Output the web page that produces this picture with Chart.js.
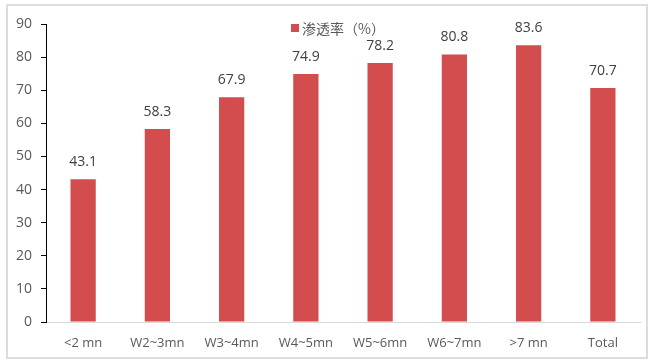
<!DOCTYPE html>
<html>
<head>
<meta charset="utf-8">
<script src="https://cdn.jsdelivr.net/npm/chart.js@4"></script>
<style>
  html, body { margin: 0; padding: 0; background: #fff; }
  .frame { position: absolute; left: 6px; top: 4px; width: 638px; height: 351px; border: 2px solid #dcdcdc; }
  canvas { position: absolute; left: 0; top: 0; }
</style>
</head>
<body>
<div class="frame"></div>
<canvas id="myBarChart" width="652" height="361"></canvas>
<script>
const categories = ['<2 mn', 'W2~3mn', 'W3~4mn', 'W4~5mn', 'W5~6mn', 'W6~7mn', '>7 mn', 'Total'];
const penetration = [43.1, 58.3, 67.9, 74.9, 78.2, 80.8, 83.6, 70.7];
const seriesName = '渗透率（%）';
const barColor = '#d34c4e';

// value labels above each bar
const valueLabels = {
    id: 'valueLabels',
    afterDatasetsDraw(chart) {
        const ctx = chart.ctx;
        const meta = chart.getDatasetMeta(0);
        ctx.save();
        ctx.font = '14px "Open Sans", sans-serif';
        ctx.fillStyle = '#404040';
        ctx.textAlign = 'center';
        ctx.textBaseline = 'bottom';
        meta.data.forEach((bar, i) => {
            ctx.fillText(chart.data.datasets[0].data[i].toFixed(1), bar.x, bar.y - 10);
        });
        ctx.restore();
    }
};

// small legend sitting inside the plot
const innerLegend = {
    id: 'innerLegend',
    afterDraw(chart) {
        const ctx = chart.ctx;
        ctx.save();
        ctx.fillStyle = barColor;
        ctx.fillRect(291, 24, 8, 8);
        ctx.font = '14px "Noto Sans CJK SC", sans-serif';
        ctx.fillStyle = '#595959';
        ctx.textBaseline = 'middle';
        ctx.fillText(chart.data.datasets[0].label, 302, 29);
        ctx.restore();
    }
};

document.addEventListener('DOMContentLoaded', () => {
    const ctx = document.getElementById('myBarChart').getContext('2d');
    new Chart(ctx, {
        type: 'bar',
        data: {
            labels: categories,
            datasets: [{
                label: seriesName,
                data: penetration,
                backgroundColor: barColor,
                categoryPercentage: 1,
                barPercentage: 0.34
            }]
        },
        options: {
            responsive: false,
            animation: false,
            layout: { padding: { top: 24, right: 12, left: 0, bottom: 0 } },
            plugins: {
                legend: { display: false },
                tooltip: { enabled: false }
            },
            scales: {
                x: {
                    grid: { display: false },
                    border: { display: true, color: '#d9d9d9', width: 1 },
                    ticks: {
                        color: '#595959',
                        font: { family: '"Open Sans", sans-serif', size: 13 },
                        padding: 5,
                        maxRotation: 0
                    },
                    afterFit: (scale) => { scale.height = 39; }
                },
                y: {
                    min: 0,
                    max: 90,
                    ticks: {
                        stepSize: 10,
                        color: '#595959',
                        font: { family: '"Open Sans", sans-serif', size: 14 },
                        padding: 9
                    },
                    grid: {
                        drawOnChartArea: false,
                        color: '#000',
                        tickLength: 5
                    },
                    border: { display: true, color: '#000', width: 1 },
                    afterFit: (scale) => { scale.width = 46; }
                }
            }
        },
        plugins: [valueLabels, innerLegend]
    });
});
</script>
</body>
</html>
